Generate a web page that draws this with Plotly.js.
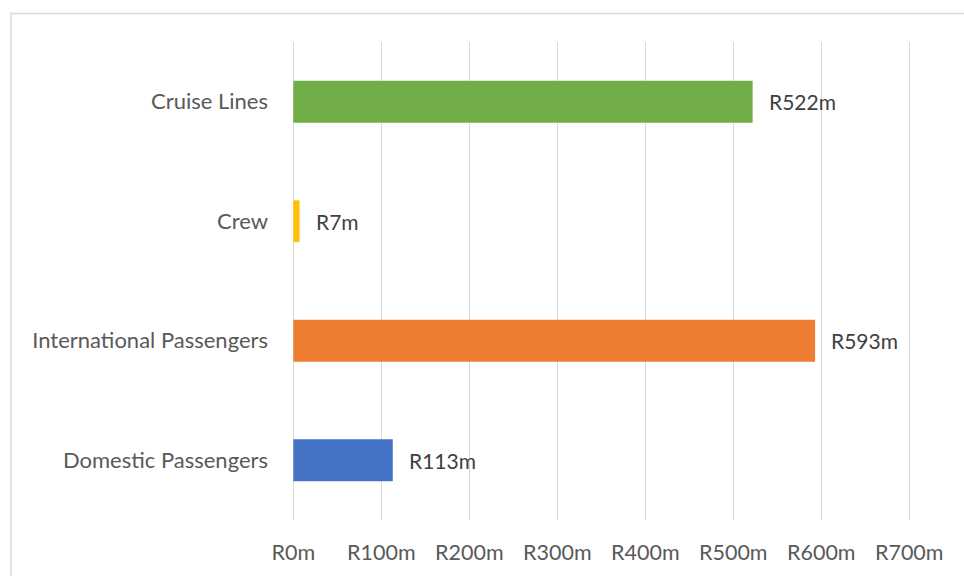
<!DOCTYPE html>
<html>
<head>
<meta charset="utf-8">
<script src="https://cdn.plot.ly/plotly-3.0.1.min.js"></script>
<style>html,body{margin:0;padding:0;background:#fff;}#chart{width:964px;height:576px;}</style>
</head>
<body>
<div id="chart"></div>
<script>
const categories = ["Domestic Passengers", "International Passengers", "Crew", "Cruise Lines"];
const values = [113, 593, 7, 522];
const barColors = ["#4472C4", "#ED7D31", "#FFC000", "#70AD47"];
const tickVals = [0, 100, 200, 300, 400, 500, 600, 700];
const tickText = tickVals.map(v => "R" + v + "m");
const labels = values.map(v => "R" + v + "m");

const fontFam = "Lato, 'Open Sans', sans-serif";
const trace = {
  type: "bar",
  orientation: "h",
  y: categories,
  x: values,
  marker: {color: barColors},
  width: 0.35,
  hoverinfo: "none"
};

const annotations = values.map((v, i) => ({
  x: v, y: categories[i], xref: "x", yref: "y",
  text: labels[i], showarrow: false, xanchor: "left", yanchor: "middle",
  xshift: 14, font: {family: fontFam, size: 21, color: "#404040"}
}));

const layout = {
  width: 964, height: 576,
  margin: {l: 292.6, r: 52.5, t: 42, b: 56},
  paper_bgcolor: "#fff", plot_bgcolor: "#fff",
  showlegend: false,
  font: {family: fontFam, size: 21.5, color: "#595959"},
  xaxis: {
    range: [-0.4, 702], tickvals: tickVals, ticktext: tickText,
    showgrid: true, gridcolor: "#d9d9d9", gridwidth: 1.3,
    zeroline: true, zerolinecolor: "#d9d9d9", zerolinewidth: 1.3,
    showline: false, ticks: "",
    ticklabelstandoff: 17,
    tickfont: {family: fontFam, size: 21.5, color: "#595959"}
  },
  yaxis: {
    type: "category", categoryorder: "array", categoryarray: categories,
    showgrid: false, zeroline: false, showline: false, ticks: "",
    ticklabelstandoff: 24,
    tickfont: {family: fontFam, size: 22, color: "#595959"}
  },
  annotations: annotations,
  shapes: [{
    type: "rect", xref: "paper", yref: "paper",
    x0: -0.4563, x1: 1.0885, y0: -0.119, y1: 1.0596,
    line: {color: "#d9d9d9", width: 1.5}, fillcolor: "rgba(0,0,0,0)", layer: "below"
  }]
};

Plotly.newPlot("chart", [trace], layout, {displayModeBar: false, staticPlot: true});
</script>
</body>
</html>
